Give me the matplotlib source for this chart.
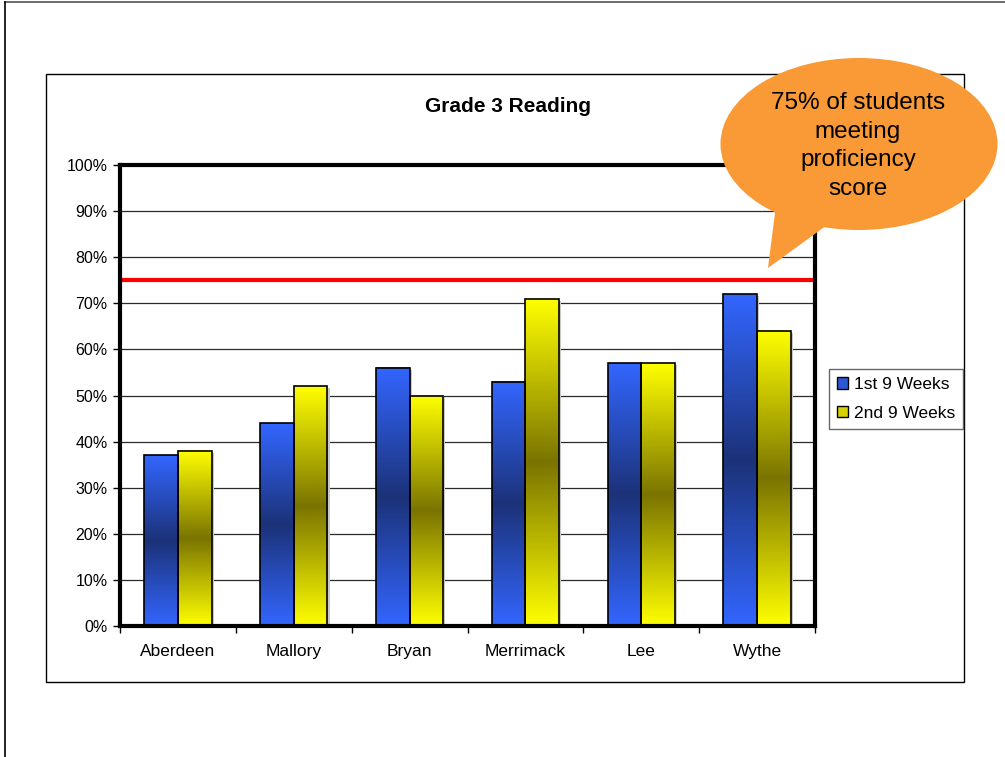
import numpy as np
import matplotlib
matplotlib.use("Agg")
import matplotlib.pyplot as plt
from matplotlib.patches import Rectangle, Ellipse, Polygon
from matplotlib.lines import Line2D
from matplotlib.colors import LinearSegmentedColormap

plt.rcParams['font.family'] = ['Liberation Sans', 'DejaVu Sans']

# ---- data ----
schools = ["Aberdeen", "Mallory", "Bryan", "Merrimack", "Lee", "Wythe"]
first_9_weeks = [37, 44, 56, 53, 57, 72]
second_9_weeks = [38, 52, 50, 71, 57, 64]
series_names = ["1st 9 Weeks", "2nd 9 Weeks"]
proficiency_target = 75
yticks = list(range(0, 101, 10))
callout_text = "75% of students\nmeeting\nproficiency\nscore"
title_text = "Grade 3 Reading"

W, H = 1005, 757
fig = plt.figure(figsize=(W / 100, H / 100), dpi=100)


def fx(px):
    return px / W


def fy(py):
    return 1 - py / H


# outer page lines
fig.add_artist(Line2D([fx(5), 1.0], [fy(2), fy(2)], color="#555555", lw=1.2))
fig.add_artist(Line2D([fx(5), fx(5)], [fy(2), 0.0], color="black", lw=1.2))

# chart area frame
fig.add_artist(Rectangle((fx(46), fy(682)), fx(964) - fx(46), fy(74) - fy(682),
                         transform=fig.transFigure, fill=False,
                         edgecolor="black", lw=1.0, zorder=0))

ax = fig.add_axes([fx(120), fy(626), fx(815) - fx(120), fy(165) - fy(626)])

x = np.arange(len(schools))
bw = 0.29
blue_cmap = LinearSegmentedColormap.from_list(
    "blue_band", ["#3366FF", "#1C3278", "#3366FF"])
yellow_cmap = LinearSegmentedColormap.from_list(
    "yellow_band", ["#FFFF00", "#7A7400", "#FFFF00"])
grad = np.linspace(0, 1, 256).reshape(-1, 1)

bars1 = ax.bar(x - bw / 2, first_9_weeks, bw, facecolor="none",
               edgecolor="black", lw=1.2, zorder=4)
bars2 = ax.bar(x + bw / 2, second_9_weeks, bw, facecolor="none",
               edgecolor="black", lw=1.2, zorder=4)

for bars, cmap in ((bars1, blue_cmap), (bars2, yellow_cmap)):
    for b in bars:
        x0, y0 = b.get_x(), b.get_y()
        w, h = b.get_width(), b.get_height()
        # soft drop shadow
        ax.add_patch(Rectangle((x0 + 0.02, y0 - 0.4), w, h, facecolor="#c8c8c8",
                               edgecolor="none", zorder=2))
        ax.imshow(grad, cmap=cmap, aspect="auto", extent=(x0, x0 + w, y0, y0 + h),
                  origin="lower", zorder=3, interpolation="bilinear")

ax.set_xlim(-0.5, len(schools) - 0.5)
ax.set_ylim(0, 100)

ax.axhline(proficiency_target, color="#FF0000", lw=3.0, zorder=5)

ax.set_yticks(yticks)
ax.set_yticklabels([f"{v}%" for v in yticks])
ax.yaxis.grid(True, color="#2a2a2a", lw=0.9, zorder=1)
ax.set_axisbelow(True)

ax.set_xticks(np.arange(-0.5, len(schools)))
ax.set_xticklabels([])
ax.set_xticks(x, minor=True)
ax.set_xticklabels(schools, minor=True)
ax.tick_params(axis="x", which="major", length=5, width=1.0, direction="out")
ax.tick_params(axis="x", which="minor", length=0, pad=13, labelsize=12.5)
ax.tick_params(axis="y", length=5, width=1.0, direction="out", pad=4, labelsize=11.5)

for s in ax.spines.values():
    s.set_linewidth(3.0)
    s.set_color("black")
    s.set_zorder(6)

# legend
handles = [Rectangle((0, 0), 1, 1, facecolor=c, edgecolor="black", lw=1.0)
           for c in ("#2E57D6", "#D6D200")]
leg = fig.legend(handles, series_names, loc="upper left",
                 bbox_to_anchor=(fx(829), fy(369)), bbox_transform=fig.transFigure,
                 frameon=True, fancybox=False, edgecolor="#444444", fontsize=12.5,
                 handlelength=0.65, handleheight=0.65, handletextpad=0.35,
                 borderpad=0.45, labelspacing=0.8, borderaxespad=0)
leg.get_frame().set_linewidth(1.0)

# title
fig.text(fx(508), fy(107), title_text, ha="center", va="center",
         fontsize=15, fontweight="bold")

# speech bubble callout
orange = "#F99A36"
fig.add_artist(Polygon([(fx(776), fy(205)), (fx(768), fy(268)), (fx(834), fy(220))],
                       closed=True, transform=fig.transFigure, facecolor=orange,
                       edgecolor="none", zorder=10))
fig.add_artist(Ellipse((fx(859), fy(144)), fx(277), 172 / H,
                       transform=fig.transFigure, facecolor=orange,
                       edgecolor="none", zorder=10))
fig.text(fx(858), fy(146), callout_text, ha="center", va="center",
         fontsize=17.5, linespacing=1.4, zorder=11)

fig.savefig("out.png", dpi=100)
